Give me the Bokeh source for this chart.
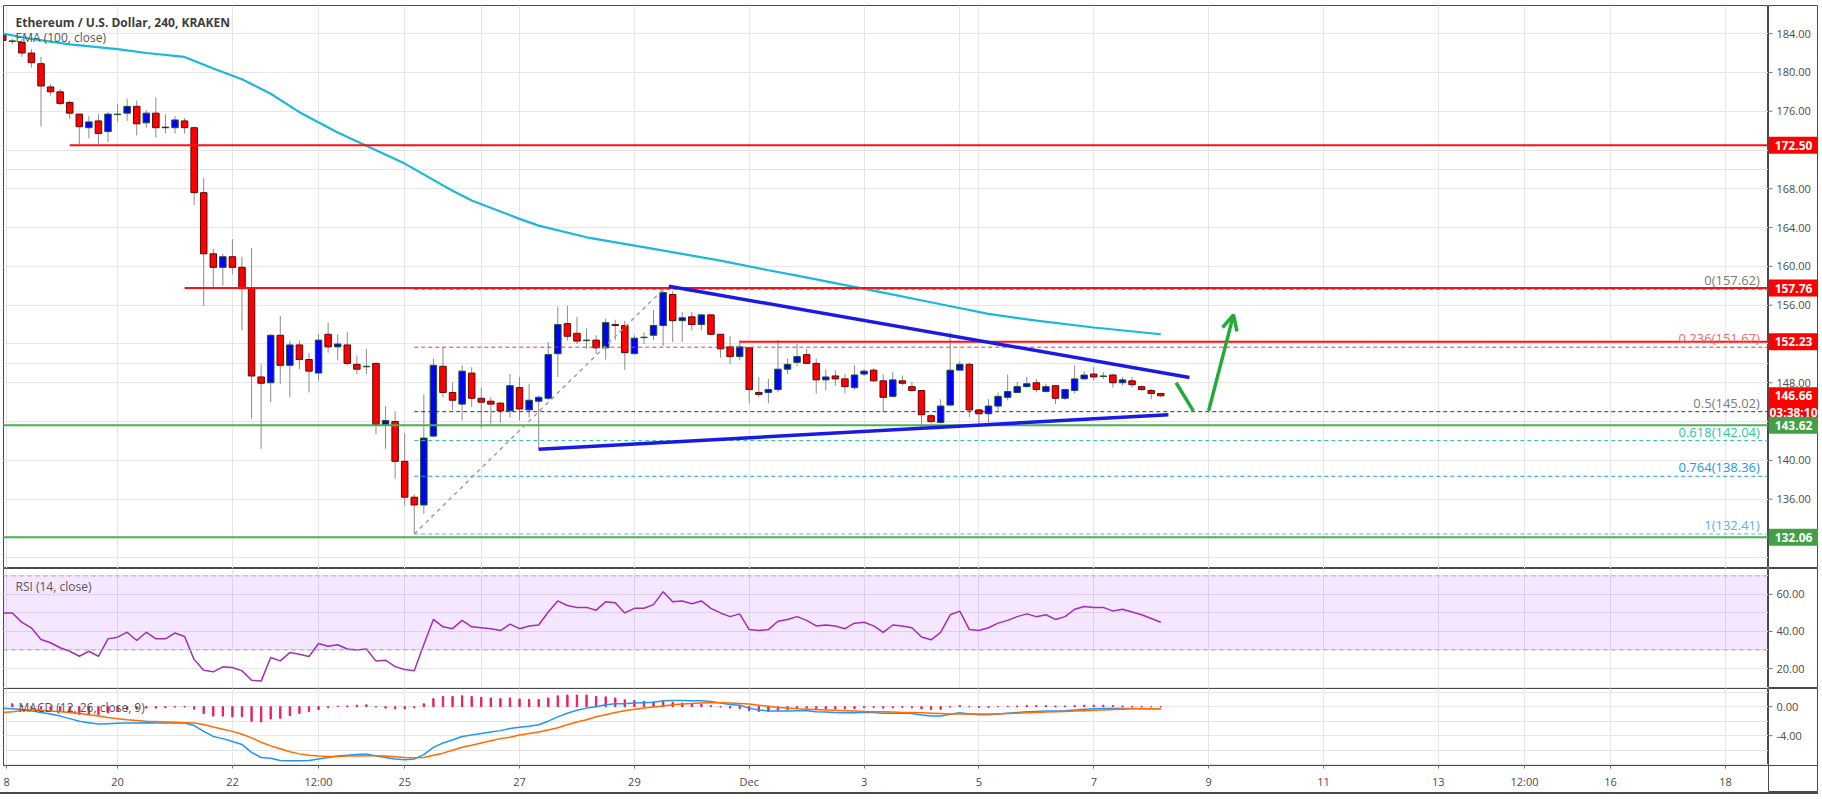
from bokeh.plotting import figure
from bokeh.models import (Range1d, FixedTicker, Label, Span, Arrow, OpenHead, Grid,
                          ColumnDataSource, BoxAnnotation)
from bokeh.layouts import column, row
from bokeh.embed import file_html
from bokeh.resources import INLINE
from bokeh.core.properties import value

# ---------------- data (4h candles, index 0 = Nov 18 00:00) ----------------
opens = [183.9, 183.2, 183.1, 182.0, 180.9, 178.5, 178.0, 176.9, 175.7, 174.3,
         175.0, 173.9, 175.65, 175.8, 176.5, 174.8, 175.8, 174.35, 174.3, 175.0,
         174.3, 167.6, 161.3, 159.9, 161.0, 159.9, 157.8, 148.6, 148.0, 152.9,
         149.8, 151.9, 150.4, 149.0, 153.0, 151.7, 151.9, 149.9, 149.65, 150.0,
         143.7, 144.0, 139.9, 136.2, 135.4, 142.5, 149.7, 147.0, 145.8, 149.0,
         146.4, 146.1, 145.9, 145.1, 147.5, 145.2, 146.1, 146.4, 151.0, 154.1,
         153.1, 152.35, 152.4, 151.6, 154.0, 153.9, 151.0, 152.65, 152.9, 153.9,
         157.1, 154.4, 154.8, 154.0, 155.0, 153.0, 151.7, 150.7, 151.6, 147.0,
         147.0, 147.3, 149.4, 150.1, 150.9, 150.0, 148.3, 148.7, 148.4, 147.5,
         148.9, 149.3, 148.2, 146.6, 148.2, 147.6, 147.2, 144.6, 143.9, 145.7,
         149.3, 149.9, 145.2, 144.8, 145.6, 146.5, 147.0, 147.6, 148.0, 147.1,
         147.7, 146.4, 147.2, 148.4, 148.9, 148.65, 148.8, 148.0, 148.2, 147.6,
         147.2, 146.9]
closes = [183.3, 183.25, 182.0, 181.0, 178.6, 178.0, 176.8, 175.8, 174.4, 174.9,
          173.7, 175.7, 175.7, 176.5, 174.7, 175.8, 174.3, 174.3, 175.1, 174.3,
          167.6, 161.3, 159.9, 161.0, 159.9, 157.7, 148.7, 147.95, 152.9, 149.8,
          151.9, 150.4, 149.2, 152.4, 151.7, 152.0, 150.0, 149.4, 149.7, 143.7,
          144.1, 139.9, 136.2, 135.4, 142.3, 149.8, 147.0, 146.2, 149.2, 146.4,
          146.0, 145.8, 145.1, 147.7, 145.3, 146.2, 146.5, 150.9, 154.0, 152.8,
          152.3, 152.4, 151.6, 154.2, 153.9, 151.1, 152.6, 152.7, 153.9, 157.3,
          154.4, 154.7, 154.0, 155.0, 153.0, 151.5, 150.7, 151.7, 147.3, 146.8,
          147.3, 149.4, 149.9, 150.7, 150.0, 148.3, 148.6, 148.4, 147.6, 148.8,
          149.2, 148.2, 146.5, 148.3, 147.95, 147.2, 144.7, 144.0, 145.6, 149.3,
          149.9, 145.2, 144.8, 145.6, 146.6, 147.1, 147.6, 147.9, 147.3, 147.6,
          146.4, 147.3, 148.4, 148.8, 148.6, 148.7, 148.0, 148.3, 147.8, 147.3,
          146.9, 146.66]
highs = [184.0, 183.45, 183.45, 182.4, 181.6, 178.8, 178.3, 177.1, 175.7, 175.5,
         175.7, 175.9, 176.75, 177.3, 177.1, 176.1, 177.4, 175.7, 175.5, 175.3,
         174.4, 169.1, 161.8, 161.3, 162.8, 161.0, 161.9, 149.9, 153.0, 154.9,
         152.35, 152.35, 151.1, 153.0, 154.2, 153.0, 153.2, 150.8, 151.5, 150.05,
         145.6, 145.05, 142.8, 136.5, 146.8, 150.5, 151.7, 148.05, 149.8, 149.6,
         147.5, 146.5, 146.0, 148.9, 148.6, 147.9, 146.7, 152.2, 155.85, 155.95,
         154.8, 153.6, 152.9, 154.6, 154.5, 154.4, 152.9, 153.2, 155.5, 157.62,
         157.5, 155.3, 155.3, 155.1, 155.05, 153.0, 152.8, 152.4, 151.6, 148.6,
         148.4, 152.4, 150.5, 152.0, 151.5, 150.5, 149.4, 149.3, 148.9, 149.8,
         149.4, 149.5, 148.9, 149.1, 148.75, 148.1, 147.2, 144.8, 146.3, 153.2,
         150.2, 150.1, 145.3, 146.3, 147.0, 148.85, 148.1, 148.6, 148.4, 147.9,
         147.7, 147.4, 149.8, 149.2, 149.6, 149.1, 148.9, 148.6, 148.6, 147.7,
         147.4, 146.95]
lows = [183.0, 182.9, 181.6, 180.5, 174.4, 177.6, 176.6, 175.2, 172.6, 173.2,
        172.6, 172.8, 174.9, 175.0, 173.5, 174.3, 173.3, 173.7, 173.7, 173.7,
        166.3, 155.9, 157.7, 158.0, 159.2, 153.4, 144.3, 141.2, 146.0, 147.9,
        146.5, 149.4, 147.0, 148.2, 151.1, 150.3, 149.8, 148.9, 148.9, 142.7,
        141.2, 138.1, 135.3, 132.41, 134.5, 142.4, 146.5, 145.2, 144.1, 145.5,
        143.3, 143.8, 143.9, 144.4, 144.1, 144.4, 141.1, 146.2, 148.6, 152.35,
        152.0, 151.5, 151.0, 150.4, 152.4, 149.3, 151.0, 152.0, 152.4, 151.8,
        152.2, 152.2, 153.4, 153.4, 152.9, 150.6, 149.9, 150.3, 145.9, 146.5,
        145.9, 147.0, 148.9, 149.7, 149.9, 146.9, 147.2, 147.7, 146.9, 147.3,
        148.7, 148.1, 144.96, 146.5, 147.7, 147.0, 143.4, 143.8, 143.8, 145.65,
        149.3, 144.45, 143.76, 143.9, 145.1, 146.2, 146.9, 147.5, 147.0, 147.0,
        145.8, 146.2, 146.9, 148.3, 148.2, 148.4, 147.5, 147.7, 147.5, 147.2,
        146.3, 146.5]

ema_idx = [0, 3, 7, 12, 15, 19, 22, 25, 28, 31, 35, 38, 42, 47, 49, 54, 56, 61,
           68, 75, 80, 83, 92, 98, 103, 108, 114, 121]
ema_val = [184.0, 183.45, 182.9, 182.4, 182.0, 181.6, 180.4, 179.3, 177.8, 175.9,
           173.8, 172.45, 170.6, 167.8, 166.8, 164.9, 164.2, 163.0, 161.8, 160.6,
           159.6, 159.05, 157.3, 156.1, 155.1, 154.4, 153.7, 153.0]

rsi = [50.0, 50.0, 44.9, 41.9, 35.7, 33.9, 31.2, 29.3, 26.6, 29.3,
       26.6, 36.0, 36.9, 39.6, 35.1, 39.6, 36.0, 36.0, 39.2, 37.3,
       24.8, 19.1, 18.2, 20.9, 20.5, 18.7, 13.7, 13.2, 25.9, 24.1,
       28.6, 27.7, 26.5, 33.5, 32.0, 32.8, 30.5, 30.0, 30.5, 24.0,
       24.5, 21.0, 19.5, 18.8, 33.0, 46.5, 42.5, 41.5, 46.0, 42.5,
       42.0, 41.5, 40.5, 44.0, 41.5, 43.0, 43.5, 50.5, 56.5, 54.0,
       53.0, 53.0, 51.5, 56.0, 55.5, 50.0, 52.5, 52.5, 54.5, 61.5,
       56.0, 56.5, 55.0, 56.5, 52.5, 50.0, 48.0, 49.5, 41.0, 40.5,
       41.0, 45.5, 46.5, 48.0, 46.0, 43.0, 43.5, 43.0, 41.5, 44.5,
       45.0, 43.0, 39.5, 43.5, 43.0, 42.0, 37.0, 35.5, 39.5, 49.0,
       51.0, 41.0, 40.5, 42.0, 44.5, 46.0, 48.0, 49.5, 48.0, 49.0,
       46.5, 48.0, 52.0, 53.5, 53.0, 53.0, 51.0, 52.0, 50.5, 49.0,
       47.0, 45.0]

macd = [-0.2, -0.3, -0.4, -0.55, -0.8, -1.0, -1.3, -1.65, -2.0, -2.2,
        -2.4, -2.35, -2.3, -2.25, -2.25, -2.2, -2.25, -2.25, -2.2, -2.25,
        -2.6, -3.4, -4.1, -4.4, -4.8, -5.2, -6.3, -7.0, -7.1, -7.4,
        -7.45, -7.45, -7.4, -7.2, -7.0, -6.8, -6.7, -6.6, -6.5, -6.8,
        -7.0, -7.2, -7.3, -7.2, -6.6, -5.6, -5.0, -4.6, -4.1, -3.9,
        -3.7, -3.5, -3.3, -3.0, -2.85, -2.7, -2.5, -2.0, -1.4, -0.9,
        -0.5, -0.2, 0.0, 0.25, 0.4, 0.4, 0.5, 0.55, 0.6, 0.8,
        0.85, 0.85, 0.8, 0.8, 0.7, 0.5, 0.3, 0.2, -0.2, -0.45,
        -0.6, -0.6, -0.6, -0.55, -0.55, -0.7, -0.75, -0.8, -0.85, -0.85,
        -0.8, -0.8, -0.9, -0.9, -0.9, -0.95, -1.15, -1.3, -1.3, -1.05,
        -0.85, -1.0, -1.1, -1.1, -1.0, -0.9, -0.8, -0.7, -0.65, -0.6,
        -0.6, -0.55, -0.45, -0.35, -0.3, -0.25, -0.25, -0.25, -0.25, -0.25,
        -0.3, -0.3]
signal = [-0.8, -0.7, -0.55, -0.45, -0.5, -0.6, -0.7, -0.8, -0.95, -1.1,
          -1.3, -1.5, -1.65, -1.8, -1.9, -2.0, -2.05, -2.1, -2.15, -2.2,
          -2.25, -2.45, -2.8, -3.1, -3.4, -3.8, -4.3, -4.9, -5.4, -5.8,
          -6.2, -6.5, -6.7, -6.8, -6.85, -6.85, -6.8, -6.8, -6.75, -6.75,
          -6.8, -6.9, -7.0, -7.05, -7.0, -6.7, -6.4, -6.0, -5.6, -5.3,
          -5.0, -4.7, -4.4, -4.2, -3.9, -3.7, -3.5, -3.2, -2.9, -2.5,
          -2.1, -1.8, -1.4, -1.1, -0.8, -0.55, -0.35, -0.2, -0.05, 0.1,
          0.25, 0.35, 0.45, 0.5, 0.55, 0.55, 0.5, 0.45, 0.35, 0.2,
          0.05, -0.1, -0.2, -0.3, -0.35, -0.4, -0.45, -0.5, -0.55, -0.6,
          -0.65, -0.7, -0.7, -0.75, -0.8, -0.8, -0.85, -0.9, -0.95, -1.0,
          -1.0, -1.0, -1.0, -1.0, -1.0, -0.95, -0.9, -0.85, -0.8, -0.75,
          -0.7, -0.65, -0.6, -0.55, -0.5, -0.45, -0.4, -0.35, -0.3, -0.3,
          -0.3, -0.3]

x_tick_pos = [0.4, 12, 24, 33, 42, 54, 66, 78, 90, 102, 114, 126, 138, 150, 159, 168, 180]
x_tick_lab = ["8", "20", "22", "12:00", "25", "27", "29", "Dec", "3", "5", "7", "9",
              "11", "13", "12:00", "16", "18"]
price_ticks = [132, 136, 140, 144, 148, 152, 156, 160, 164, 168, 172, 176, 180, 184]
price_ticks_hidden = [132, 144, 152, 172]
rsi_ticks = [20, 40, 60]
macd_ticks = [0, -4]

# horizontal levels (value, start candle index)
red_levels = [(172.50, 7), (157.76, 19), (152.23, 77)]
green_levels = [143.62, 132.06]
fib_ratio = ["0", "0.236", "0.5", "0.618", "0.764", "1"]
fib_value = [157.62, 151.67, 145.02, 142.04, 138.36, 132.41]
fib_start = 43
fib_end_idx = 69
upper_trend = [(69.6, 157.95), (124.0, 148.55)]
lower_trend = [(56.0, 141.15), (121.8, 144.7)]
arrow_down = [(122.6, 148.0), (124.4, 145.1)]
arrow_up = [(126.0, 145.1), (128.6, 155.0)]
last_close = 146.66
countdown = "03:38:10"
countdown_y = 144.93
box_labels = [("172.50", 172.50, "red"), ("157.76", 157.76, "red"), ("152.23", 152.23, "red"),
              ("146.66", last_close, "red"), (countdown, countdown_y, "red"),
              ("143.62", 143.62, "green"), ("132.06", 132.06, "green")]

# ---------------- styling ----------------
FONT = "Open Sans"
FRAME = "#4a4a4a"
GRID = "#e6e6e6"
TXT = "#4a4a4a"
MAIN_W = 1768
AX_W = 50
XR = Range1d(0.08, 184.5)
BULL, BEAR = "#0000ff", "#ff0000"
BULL_EDGE, BEAR_EDGE = "#1f5a1f", "#5a0a0a"
RED_LINE, GREEN_LINE = "#ff1010", "#4caf50"
BOX_COL = {"red": "#ff0000", "green": "#43a047"}


def main_fig(height, yr, top=0, bottom=0, xaxis=False, yticks=()):
    p = figure(width=MAIN_W, height=height, x_range=XR, y_range=yr,
               output_backend="svg", toolbar_location=None,
               x_axis_location="below" if xaxis else None, y_axis_location=None,
               min_border_left=3, min_border_right=0, min_border_top=top,
               min_border_bottom=bottom)
    p.outline_line_color = FRAME
    p.outline_line_width = 1
    p.add_layout(Grid(dimension=0, ticker=FixedTicker(ticks=x_tick_pos),
                      grid_line_color=GRID, grid_line_width=1))
    p.add_layout(Grid(dimension=1, ticker=FixedTicker(ticks=list(yticks)),
                      grid_line_color=GRID, grid_line_width=1))
    return p


def axis_fig(height, yr, ticks, hidden=(), top=0, bottom=0):
    a = figure(width=AX_W, height=height, x_range=Range1d(0, AX_W), y_range=yr,
               output_backend="svg", toolbar_location=None,
               x_axis_location=None, y_axis_location=None,
               min_border_left=0, min_border_right=0, min_border_top=top,
               min_border_bottom=bottom)
    a.outline_line_color = FRAME
    a.outline_line_width = 1
    a.xgrid.visible = False
    a.ygrid.visible = False
    a.segment(x0=[0] * len(ticks), y0=ticks, x1=[4] * len(ticks), y1=ticks,
              line_color="#777777", line_width=1)
    shown = [t for t in ticks if t not in hidden]
    a.text(x=[8] * len(shown), y=shown, text=[f"{t:.2f}" for t in shown],
           text_font=value(FONT), text_font_size="11px", text_color=TXT,
           text_baseline="middle", text_align="left")
    return a


# ---------------- price panel ----------------
p1 = main_fig(568, Range1d(128.85, 186.9), top=5, yticks=price_ticks)

idx = list(range(len(opens)))
src = ColumnDataSource(dict(
    x=idx, h=highs, l=lows,
    top=[max(a, b) for a, b in zip(opens, closes)],
    bot=[min(a, b) for a, b in zip(opens, closes)],
    fill=[BULL if c >= o else BEAR for o, c in zip(opens, closes)],
    edge=[BULL_EDGE if c >= o else BEAR_EDGE for o, c in zip(opens, closes)],
))
p1.segment(x0="x", y0="h", x1="x", y1="l", source=src, line_color="#8c8c8c", line_width=1)
p1.vbar(x="x", top="top", bottom="bot", width=0.68, source=src,
        fill_color="fill", line_color="edge", line_width=1)

p1.line(ema_idx, ema_val, line_color="#1cb8d8", line_width=2.2)

for v, s in red_levels:
    p1.segment(x0=[s], y0=[v], x1=[190], y1=[v], line_color=RED_LINE, line_width=2)
for v in green_levels:
    p1.segment(x0=[-2], y0=[v], x1=[190], y1=[v], line_color=GREEN_LINE, line_width=2)

fib_colors = ["#8a8a8a", "#e53935", "#4a2a2a", "#2ec4a0", "#2196f3", "#5bb0e8"]
for r, v, col in zip(fib_ratio, fib_value, fib_colors):
    p1.segment(x0=[fib_start], y0=[v], x1=[184.4], y1=[v], line_color=col,
               line_width=1, line_dash="4 3")
    lab_col = "#7a7a7a" if r in ("0", "0.5") else ("#ef6a6a" if r == "0.236" else col)
    p1.add_layout(Label(x=183.6, y=v, text=f"{r}({v:.2f})", text_align="right",
                        text_baseline="bottom", text_font=FONT,
                        text_font_size="13px", text_color=lab_col))
p1.line([fib_start, fib_end_idx], [fib_value[-1], fib_value[0]], line_color="#a0a0a0",
        line_width=1.5, line_dash="4 4")

p1.line([upper_trend[0][0], upper_trend[1][0]], [upper_trend[0][1], upper_trend[1][1]],
        line_color="#1a1ae6", line_width=3.5)
p1.line([lower_trend[0][0], lower_trend[1][0]], [lower_trend[0][1], lower_trend[1][1]],
        line_color="#1a1ae6", line_width=3.5)

p1.line([arrow_down[0][0], arrow_down[1][0]], [arrow_down[0][1], arrow_down[1][1]],
        line_color="#22aa3a", line_width=3.5)
p1.add_layout(Arrow(x_start=arrow_up[0][0], y_start=arrow_up[0][1], x_end=arrow_up[1][0],
                    y_end=arrow_up[1][1], line_color="#22aa3a", line_width=3.5,
                    end=OpenHead(size=15, line_color="#22aa3a", line_width=3.5)))

p1.add_layout(Label(x=12, y=185.15, x_units="screen", text="Ethereum / U.S. Dollar, 240, KRAKEN",
                    text_font=FONT, text_font_size="12px", text_font_style="bold",
                    text_color="#3c3c3c", text_baseline="middle"))
p1.add_layout(Label(x=12, y=183.55, x_units="screen", text="EMA (100, close)",
                    text_font=FONT, text_font_size="12px", text_color="#555555",
                    text_baseline="middle"))

a1 = axis_fig(568, p1.y_range, price_ticks, hidden=price_ticks_hidden, top=5)
bsrc = ColumnDataSource(dict(
    x=[AX_W / 2] * len(box_labels), y=[b[1] for b in box_labels],
    t=[b[0] for b in box_labels], c=[BOX_COL[b[2]] for b in box_labels]))
a1.rect(x="x", y="y", width=AX_W, height=17, height_units="screen", source=bsrc,
        fill_color="c", line_color=None)
a1.text(x="x", y="y", text="t", source=bsrc, text_font=value(FONT), text_font_size="12px",
        text_font_style="bold", text_color="white", text_align="center",
        text_baseline="middle")

# ---------------- RSI panel ----------------
p2 = main_fig(120, Range1d(9.2, 74), yticks=rsi_ticks)
p2.add_layout(BoxAnnotation(bottom=30, top=70, fill_color="#9915ff", fill_alpha=0.1,
                            line_color=None))
for lv in (70, 30):
    p2.add_layout(Span(location=lv, dimension="width", line_color="#a8a8a8",
                       line_dash="4 4", line_width=1))
p2.line(idx, rsi, line_color="#a032b4", line_width=1.5)
p2.add_layout(Label(x=12, y=64.2, x_units="screen", text="RSI (14, close)", text_font=FONT,
                    text_font_size="12px", text_color="#555555", text_baseline="middle"))
a2 = axis_fig(120, p2.y_range, rsi_ticks)

# ---------------- MACD panel ----------------
MACD_FRAME_H, XLAB_H = 77, 27
p3 = main_fig(MACD_FRAME_H + XLAB_H, Range1d(-8.1, 2.5), bottom=XLAB_H, xaxis=True,
              yticks=macd_ticks)
hist = [m - s for m, s in zip(macd, signal)]
p3.vbar(x=idx, top=hist, bottom=0, width=0.14, fill_color="#e91e63", line_color="#e91e63",
        line_width=1)
p3.line(idx, macd, line_color="#2196f3", line_width=1.5)
p3.line(idx, signal, line_color="#ff6d00", line_width=1.5)
p3.add_layout(Label(x=15, y=-0.15, x_units="screen", text="MACD (12, 26, close, 9)",
                    text_font=FONT, text_font_size="12px", text_color="#555555",
                    text_baseline="middle"))
xa = p3.xaxis[0]
xa.ticker = FixedTicker(ticks=x_tick_pos)
xa.major_label_overrides = {t: s for t, s in zip(x_tick_pos, x_tick_lab)}
xa.axis_line_color = FRAME
xa.major_tick_out = 3
xa.major_tick_in = 0
xa.major_tick_line_color = "#777777"
xa.minor_tick_line_color = None
xa.major_label_text_font = FONT
xa.major_label_text_font_size = "11px"
xa.major_label_text_color = TXT
xa.major_label_standoff = 5

# axis column for MACD spans the x-label row too (empty bordered cell at the bottom)
y0, y1 = p3.y_range.start, p3.y_range.end
ext = (y1 - y0) * (MACD_FRAME_H + XLAB_H) / MACD_FRAME_H
a3 = axis_fig(MACD_FRAME_H + XLAB_H, Range1d(y1 - ext, y1), macd_ticks)
a3.add_layout(Span(location=y0, dimension="width", line_color=FRAME, line_width=1))

layout = row(column(p1, p2, p3, spacing=0), column(a1, a2, a3, spacing=0), spacing=0,
             styles={"border-bottom": "2px solid #4a4a4a"})
open("out.html", "w").write(file_html(layout, INLINE))
